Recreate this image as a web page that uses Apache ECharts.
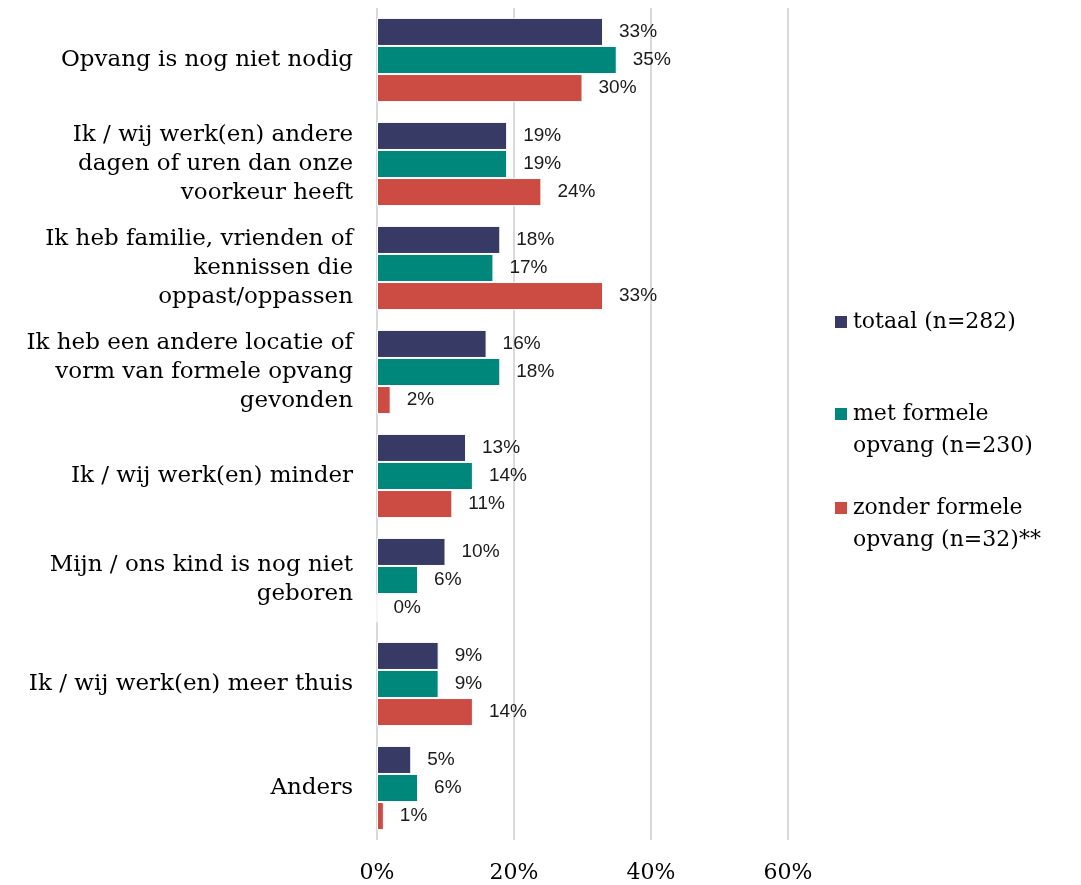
<!DOCTYPE html>
<html lang="nl">
<head>
  <meta charset="UTF-8">
  <title>Redenen geen opvang</title>
  <script src="https://cdn.jsdelivr.net/npm/echarts@6.0.0/dist/echarts.min.js"></script>
  <style>
    html, body { margin: 0; padding: 0; background: #fff; }
  </style>
</head>
<body>
<div id="chart" style="width: 1081px; height: 885px;"></div>

<script>
  // categorieën (van boven naar beneden)
  var categories = [
    'Opvang is nog niet nodig',
    'Ik / wij werk(en) andere\ndagen of uren dan onze\nvoorkeur heeft',
    'Ik heb familie, vrienden of\nkennissen die\noppast/oppassen',
    'Ik heb een andere locatie of\nvorm van formele opvang\ngevonden',
    'Ik / wij werk(en) minder',
    'Mijn / ons kind is nog niet\ngeboren',
    'Ik / wij werk(en) meer thuis',
    'Anders'
  ];

  var seriesNames = ['totaal (n=282)', 'met formele\nopvang (n=230)', 'zonder formele\nopvang (n=32)**'];

  // percentages
  var totaal = [33, 19, 18, 16, 13, 10, 9, 5];
  var metFormele = [35, 19, 17, 18, 14, 6, 9, 6];
  var zonderFormele = [30, 24, 33, 2, 11, 0, 14, 1];

  var xTicks = [0, 20, 40, 60];

  var colors = ['#383a66', '#00877b', '#cc4c44'];
  var serif = '"DejaVu Serif", serif';
  var sans = '"Liberation Sans", Arial, sans-serif';

  // vierkantje bovenaan een hoger vak, zodat het bij de eerste tekstregel staat
  var topSquare = 'path://M0,0H14V14H0Z M0,46H0.01V46.01H0Z';

  var myChart = echarts.init(document.getElementById('chart'));

  function makeSeries(name, data, color) {
    return {
      name: name,
      type: 'bar',
      data: data,
      barGap: '0%',
      barCategoryGap: '19%',
      itemStyle: { color: color, borderColor: '#fff', borderWidth: 1 },
      label: {
        show: true,
        position: 'right',
        distance: 16,
        formatter: '{c}%',
        color: '#1a1a1a',
        fontFamily: sans,
        fontSize: 19
      }
    };
  }

  function legendBox(name, top, multi) {
    return {
      data: [{ name: name, icon: multi ? topSquare : 'rect' }],
      left: 833,
      top: top,
      padding: 0,
      itemWidth: 14,
      itemHeight: multi ? 46 : 14,
      itemGap: 0,
      symbolKeepAspect: false,
      textStyle: {
        fontFamily: serif,
        fontSize: 22,
        color: '#000',
        lineHeight: 32
      }
    };
  }

  var option = {
    animation: false,
    backgroundColor: '#fff',
    grid: { left: 377, right: 293, top: 8, bottom: 45, containLabel: false },
    legend: [
      legendBox(seriesNames[0], 306, false),
      legendBox(seriesNames[1], 398, true),
      legendBox(seriesNames[2], 492, true)
    ],
    xAxis: {
      type: 'value',
      min: xTicks[0],
      max: xTicks[xTicks.length - 1],
      interval: 20,
      axisLine: { show: false },
      axisTick: { show: false },
      splitLine: { lineStyle: { color: '#d9d9d9', width: 2 } },
      axisLabel: {
        formatter: '{value}%',
        margin: 22,
        color: '#000',
        fontFamily: serif,
        fontSize: 22
      }
    },
    yAxis: {
      type: 'category',
      inverse: true,
      data: categories,
      axisLine: { show: false },
      axisTick: { show: false },
      axisLabel: {
        margin: 24,
        color: '#000',
        fontFamily: serif,
        fontSize: 23,
        lineHeight: 29,
        align: 'right'
      }
    },
    series: [
      makeSeries(seriesNames[0], totaal, colors[0]),
      makeSeries(seriesNames[1], metFormele, colors[1]),
      makeSeries(seriesNames[2], zonderFormele, colors[2])
    ]
  };

  myChart.setOption(option);
</script>
</body>
</html>
